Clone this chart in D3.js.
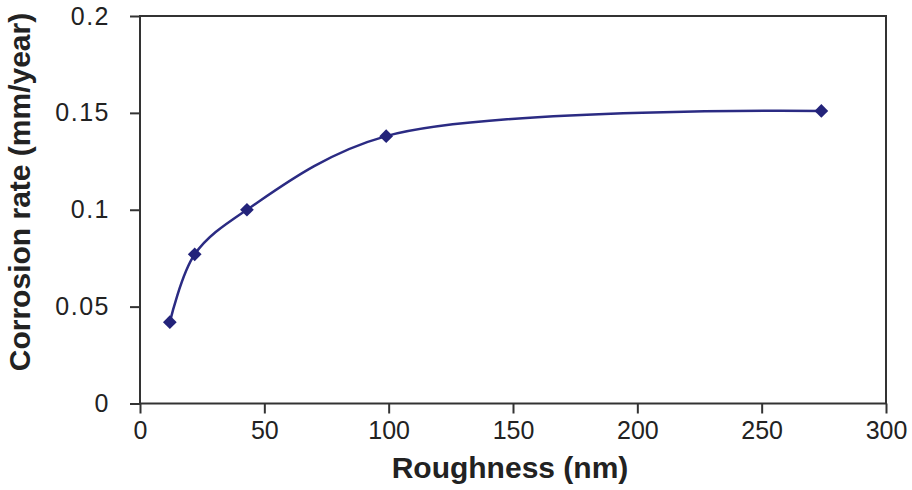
<!DOCTYPE html>
<html lang="en">
<head>
<meta charset="UTF-8">
<title>Corrosion rate vs roughness</title>
<style>
  body { margin: 0; background: #fff; }
  text { font-family: "Liberation Sans", Arial, sans-serif; fill: #222; }
</style>
</head>
<body>
<svg id="chart" width="912" height="490"></svg>
<script src="https://d3js.org/d3.v7.min.js"></script>
<script>
// data
var roughness = [12, 22, 43, 99, 274];
var corrosion = [0.042, 0.077, 0.100, 0.138, 0.151];
var xTicks = [0, 50, 100, 150, 200, 250, 300];
var yTicks = [0, 0.05, 0.1, 0.15, 0.2];

var svg = d3.select("#chart"),
    plotL = 140, plotR = 886, plotT = 16, plotB = 403.5;

var x = d3.scaleLinear().domain([0, 300]).range([plotL, plotR]);
var y = d3.scaleLinear().domain([0, 0.2]).range([plotB, plotT]);

// frame
svg.append("rect")
    .attr("x", plotL).attr("y", plotT)
    .attr("width", plotR - plotL).attr("height", plotB - plotT)
    .attr("fill", "none").attr("stroke", "#333").attr("stroke-width", 2);

// axes
var xAxis = svg.append("g")
    .attr("transform", "translate(0," + plotB + ")")
    .call(d3.axisBottom(x).tickValues(xTicks).tickSize(10).tickPadding(8).tickFormat(d3.format("d")));
var yAxis = svg.append("g")
    .attr("transform", "translate(" + plotL + ",0)")
    .call(d3.axisLeft(y).tickValues(yTicks).tickSize(10).tickPadding(20)
        .tickFormat(function(d) { return String(+d.toFixed(2)); }));

[xAxis, yAxis].forEach(function(g) {
    g.select(".domain").remove();
    g.selectAll("line").attr("stroke", "#333").attr("stroke-width", 2);
    g.selectAll("text").attr("font-size", 25).attr("fill", "#222")
        .style("font-family", "'Liberation Sans', Arial, sans-serif");
});
yAxis.selectAll("text").style("letter-spacing", "1.5px");

// axis titles
svg.append("text")
    .attr("x", 510).attr("y", 478)
    .attr("text-anchor", "middle")
    .attr("font-size", 30).attr("font-weight", "bold")
    .text("Roughness (nm)");

svg.append("text")
    .attr("transform", "translate(30," + 192 + ") rotate(-90)")
    .attr("text-anchor", "middle")
    .attr("font-size", 30).attr("font-weight", "bold")
    .text("Corrosion rate (mm/year)");

// smooth line
var pts = roughness.map(function(r, i) { return [r, corrosion[i]]; });
var line = d3.line()
    .x(function(d) { return x(d[0]); })
    .y(function(d) { return y(d[1]); })
    .curve(d3.curveCatmullRom.alpha(0.5));

svg.append("path")
    .datum(pts)
    .attr("d", line)
    .attr("fill", "none")
    .attr("stroke", "#2b2b83")
    .attr("stroke-width", 2.5);

// diamond markers
svg.selectAll(".pt")
    .data(pts)
    .enter().append("path")
    .attr("class", "pt")
    .attr("transform", function(d) { return "translate(" + x(d[0]) + "," + y(d[1]) + ")"; })
    .attr("d", d3.symbol().type(d3.symbolDiamond2).size(120))
    .attr("fill", "#23237a");
</script>
</body>
</html>
